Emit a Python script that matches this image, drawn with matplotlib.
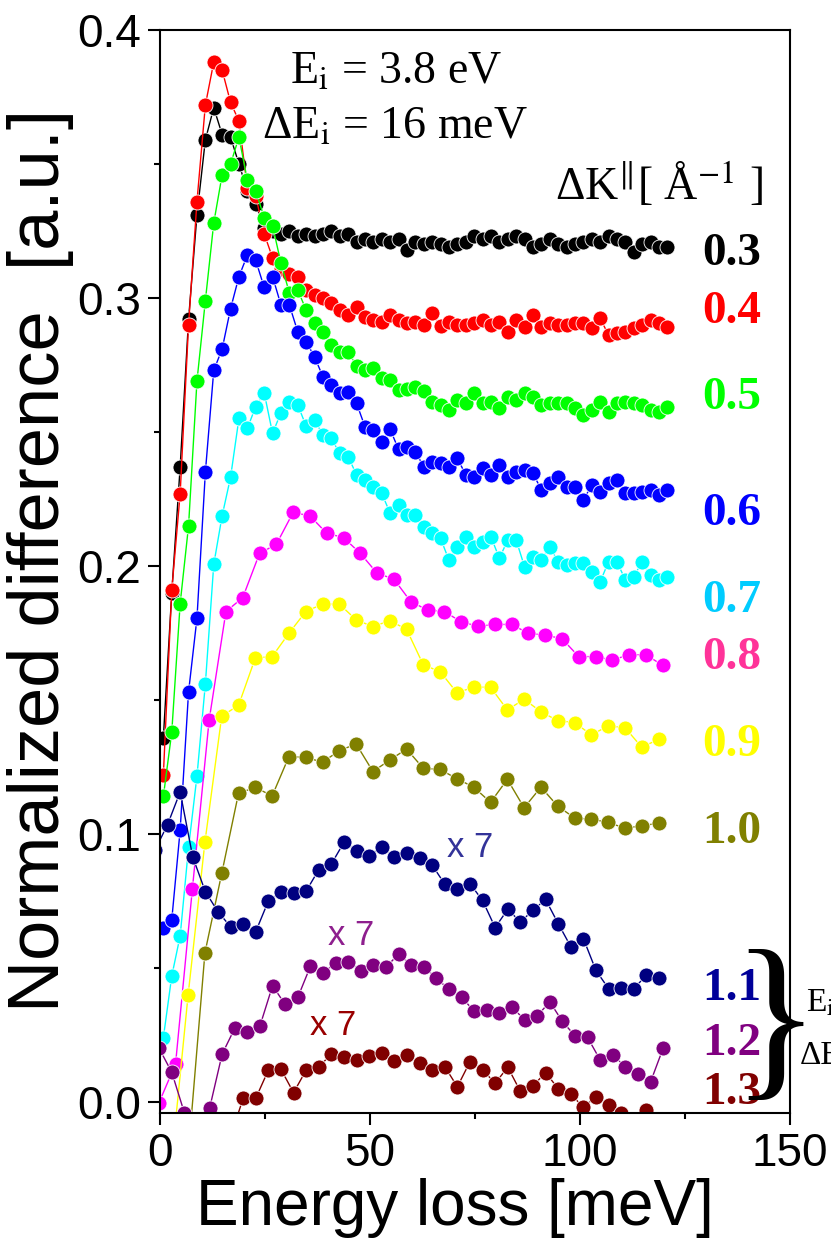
#!/usr/bin/env python3
"""Normalized difference spectra vs energy loss for several momentum transfers."""

import matplotlib
matplotlib.use("Agg")
import matplotlib.pyplot as plt
from matplotlib.ticker import MultipleLocator, FormatStrFormatter

plt.rcParams.update(
    {
        "font.family": ["Liberation Sans", "DejaVu Sans"],
        "mathtext.fontset": "stix",
        "axes.linewidth": 1.5,
    }
)

SERIF = ["Liberation Serif", "DejaVu Serif"]

# energy-loss grids (meV)
X_FINE = [0.8, 2.8, 4.8, 6.8, 8.8, 10.8, 12.8, 14.8, 16.8, 18.8,
          20.8, 22.8, 24.8, 26.8, 28.8, 30.8, 32.8, 34.8, 36.8, 38.8,
          40.8, 42.8, 44.8, 46.8, 48.8, 50.8, 52.8, 54.8, 56.8, 58.8,
          60.8, 62.8, 64.8, 66.8, 68.8, 70.8, 72.8, 74.8, 76.8, 78.8,
          80.8, 82.8, 84.8, 86.8, 88.8, 90.8, 92.8, 94.8, 96.8, 98.8,
          100.8, 102.8, 104.8, 106.8, 108.8, 110.8, 112.8, 114.8, 116.8, 118.8,
          120.8]
X_MAG = [-0.3, 3.7, 7.7, 11.7, 15.7, 19.7, 23.7, 27.7, 31.7, 35.7,
         39.7, 43.7, 47.7, 51.7, 55.7, 59.7, 63.7, 67.7, 71.7, 75.7,
         79.7, 83.7, 87.7, 91.7, 95.7, 99.7, 103.7, 107.7, 111.7, 115.7,
         119.7]
X_YEL = [2.7, 6.7, 10.7, 14.7, 18.7, 22.7, 26.7, 30.7, 34.7, 38.7,
         42.7, 46.7, 50.7, 54.7, 58.7, 62.7, 66.7, 70.7, 74.7, 78.7,
         82.7, 86.7, 90.7, 94.7, 98.7, 102.7, 106.7, 110.7, 114.7, 118.7]
X_OLI = X_YEL[1:]
X_NAV = [-1.2, 1.8, 4.8, 7.8, 10.8, 13.8, 16.8, 19.8, 22.8, 25.8,
         28.8, 31.8, 34.8, 37.8, 40.8, 43.8, 46.8, 49.8, 52.8, 55.8,
         58.8, 61.8, 64.8, 67.8, 70.8, 73.8, 76.8, 79.8, 82.8, 85.8,
         88.8, 91.8, 94.8, 97.8, 100.8, 103.8, 106.8, 109.8, 112.8, 115.8,
         118.8]
X_PUR = [-0.2, 2.8, 5.8, 8.8, 11.8, 14.8, 17.8, 20.8, 23.8, 26.8,
         29.8, 32.8, 35.8, 38.8, 41.8, 44.8, 47.8, 50.8, 53.8, 56.8,
         59.8, 62.8, 65.8, 68.8, 71.8, 74.8, 77.8, 80.8, 83.8, 86.8,
         89.8, 92.8, 95.8, 98.8, 101.8, 104.8, 107.8, 110.8, 113.8, 116.8,
         119.8]
X_MAR = X_NAV[6:]

Y_03 = [0.136, 0.190, 0.237, 0.292, 0.331, 0.359, 0.371, 0.361, 0.360, 0.350,
        0.340, 0.335, 0.326, 0.325, 0.324, 0.325, 0.323, 0.324, 0.323, 0.324,
        0.325, 0.323, 0.324, 0.321, 0.322, 0.321, 0.322, 0.321, 0.322, 0.318,
        0.321, 0.320, 0.321, 0.320, 0.319, 0.320, 0.321, 0.323, 0.322, 0.323,
        0.321, 0.322, 0.323, 0.322, 0.319, 0.320, 0.322, 0.320, 0.319, 0.320,
        0.321, 0.322, 0.321, 0.323, 0.322, 0.321, 0.317, 0.320, 0.321, 0.319,
        0.319]
Y_04 = [0.122, 0.191, 0.227, 0.290, 0.336, 0.372, 0.388, 0.385, 0.373, 0.366,
        0.341, 0.338, 0.324, 0.315, 0.311, 0.309, 0.308, 0.303, 0.301, 0.300,
        0.298, 0.2955, 0.2937, 0.2968, 0.293, 0.2918, 0.2912, 0.2937, 0.2918, 0.2906,
        0.2912, 0.290, 0.2943, 0.2896, 0.2912, 0.290, 0.290, 0.2906, 0.2918, 0.290,
        0.2912, 0.2875, 0.2918, 0.2893, 0.2937, 0.2893, 0.2906, 0.290, 0.290, 0.2906,
        0.2905, 0.2887, 0.2924, 0.2862, 0.2868, 0.2874, 0.2887, 0.290, 0.2918, 0.2905,
        0.2893]
Y_05 = [0.114, 0.138, 0.186, 0.215, 0.269, 0.299, 0.328, 0.346, 0.350, 0.360,
        0.344, 0.340, 0.330, 0.327, 0.313, 0.302, 0.303, 0.2955, 0.2905, 0.2874,
        0.2825, 0.280, 0.280, 0.2746, 0.2731, 0.2737, 0.270, 0.2694, 0.2657, 0.2659,
        0.2669, 0.2654, 0.2613, 0.260, 0.2582, 0.2619, 0.2607, 0.2644, 0.2607, 0.2613,
        0.2588, 0.2632, 0.2619, 0.2644, 0.2632, 0.260, 0.2607, 0.2607, 0.2607, 0.2588,
        0.2563, 0.2582, 0.2613, 0.2576, 0.2607, 0.2613, 0.2607, 0.260, 0.2582, 0.2576,
        0.2595]
Y_06 = [0.065, 0.068, 0.1015, 0.153, 0.1805, 0.235, 0.273, 0.281, 0.296, 0.308,
        0.316, 0.314, 0.304, 0.308, 0.2974, 0.2974, 0.2874, 0.2837, 0.278, 0.2706,
        0.2675, 0.2644, 0.265, 0.2607, 0.252, 0.2507, 0.2464, 0.251, 0.2435, 0.2445,
        0.2427, 0.237, 0.2389, 0.2383, 0.237, 0.2402, 0.234, 0.2333, 0.2364, 0.234,
        0.2377, 0.2333, 0.2352, 0.2358, 0.2346, 0.2284, 0.2308, 0.2333, 0.2296, 0.2296,
        0.2246, 0.2302, 0.2277, 0.2308, 0.2321, 0.2271, 0.2271, 0.2277, 0.2284, 0.2265,
        0.2284]
Y_07 = [0.024, 0.047, 0.062, 0.095, 0.1216, 0.156, 0.2006, 0.2188, 0.2331, 0.2551,
        0.2514, 0.2595, 0.2647, 0.2495, 0.2572, 0.2613, 0.2601, 0.2522, 0.2545, 0.2489,
        0.2476, 0.242, 0.2408, 0.234, 0.2321, 0.2296, 0.2271, 0.2197, 0.2228, 0.219,
        0.219, 0.2147, 0.2122, 0.2103, 0.2022, 0.2072, 0.2109, 0.2072, 0.2091, 0.2109,
        0.2029, 0.2097, 0.2097, 0.1997, 0.2035, 0.2022, 0.2072, 0.2016, 0.2004, 0.201,
        0.201, 0.1979, 0.1941, 0.2016, 0.2016, 0.1948, 0.196, 0.2016, 0.1966, 0.1948,
        0.196]
Y_08 = [-0.0005, 0.0142, 0.0794, 0.1425, 0.183, 0.1882, 0.2047, 0.2081, 0.220, 0.2187,
        0.2122, 0.2106, 0.2047, 0.1973, 0.1951, 0.1867, 0.1836, 0.183, 0.1792, 0.1775,
        0.1782, 0.1782, 0.1749, 0.1742, 0.1729, 0.1662, 0.1662, 0.1649, 0.1669, 0.1669,
        0.1629]
Y_09 = [-0.023, 0.040, 0.097, 0.144, 0.148, 0.1657, 0.1662, 0.1749, 0.183, 0.1858,
        0.1858, 0.1799, 0.1774, 0.1796, 0.1764, 0.1631, 0.1606, 0.1527, 0.1548, 0.1548,
        0.1463, 0.1503, 0.1456, 0.1423, 0.1416, 0.137, 0.1403, 0.1397, 0.1324, 0.1353]
Y_10 = [-0.020, 0.0557, 0.0853, 0.1152, 0.1174, 0.1142, 0.1289, 0.1286, 0.1268,
        0.1311, 0.1336, 0.1233, 0.1276, 0.1317, 0.1245, 0.1241, 0.1206, 0.1175, 0.1118,
        0.1204, 0.1098, 0.1175, 0.1104, 0.106, 0.1055, 0.1044, 0.1021, 0.1031, 0.104]
Y_11 = [0.094, 0.1035, 0.1157, 0.0914, 0.0785, 0.071, 0.0654, 0.0664, 0.0636, 0.075,
        0.0782, 0.0779, 0.0787, 0.0867, 0.0888, 0.0969, 0.0938, 0.0919, 0.095, 0.0915,
        0.0928, 0.0912, 0.0884, 0.0813, 0.0795, 0.0815, 0.0752, 0.0651, 0.0719, 0.0672,
        0.0715, 0.0756, 0.0666, 0.058, 0.061, 0.0491, 0.0423, 0.0427, 0.0423, 0.0473,
        0.0463]
Y_12 = [0.020, 0.0111, -0.004, -0.015, -0.0024, 0.0179, 0.0275, 0.0262, 0.0284, 0.0434,
        0.0364, 0.039, 0.0506, 0.048, 0.052, 0.0524, 0.049, 0.0511, 0.0503, 0.0552,
        0.0511, 0.0505, 0.0462, 0.042, 0.0392, 0.0338, 0.0342, 0.0333, 0.0354, 0.0307,
        0.0321, 0.0374, 0.0301, 0.0247, 0.0241, 0.0157, 0.0177, 0.0131, 0.0104, 0.0075,
        0.0201]
Y_13 = [-0.013, 0.0014, 0.0014, 0.0119, 0.0122, 0.0035, 0.0119, 0.0132, 0.0178, 0.0169,
        0.0157, 0.0172, 0.0182, 0.0154, 0.0175, 0.0144, 0.0119, 0.0132, 0.0057, 0.015,
        0.012, 0.007, 0.013, 0.004, 0.006, 0.011, 0.005, 0.003, -0.002, 0.002,
        -0.001, -0.004, -0.008, -0.003, -0.009]

SERIES = [
    (X_FINE, Y_03, "#000000"),
    (X_FINE, Y_04, "#ff0000"),
    (X_FINE, Y_05, "#00ff00"),
    (X_FINE, Y_06, "#0000ff"),
    (X_FINE, Y_07, "#00ffff"),
    (X_MAG, Y_08, "#ff00ff"),
    (X_YEL, Y_09, "#ffff00"),
    (X_OLI, Y_10, "#808000"),
    (X_NAV, Y_11, "#000080"),
    (X_PUR, Y_12, "#800080"),
    (X_MAR, Y_13, "#800000"),
]

DK_LABELS = ["0.3", "0.4", "0.5", "0.6", "0.7", "0.8", "0.9", "1.0", "1.1", "1.2", "1.3"]
DK_COLORS = ["#000000", "#ff0000", "#00ff00", "#0000ff", "#00ccff", "#ff3399",
             "#ffff00", "#808000", "#000099", "#800080", "#800000"]
DK_BASE = [0.3123, 0.2906, 0.2585, 0.2153, 0.1828, 0.1616, 0.1291, 0.0966, 0.0380, 0.0175, -0.0007]

SCALE_TXT = [("x 7", 68.3, 0.0915, "#333399"),
             ("x 7", 40.1, 0.0586, "#8e1f8e"),
             ("x 7", 35.7, 0.0250, "#990000")]

W, H = 831, 1248
fig = plt.figure(figsize=(W / 100, H / 100), dpi=100)
ax = fig.add_axes([160 / W, 1 - 1113 / H, 630 / W, 1083 / H])

for xs, ys, c in SERIES:
    ax.plot(xs, ys, "-", color=c, lw=1.0, marker="o", ms=10.8,
            mfc=c, mec="white", mew=0.6)

ax.set_xlim(0, 150)
ax.set_ylim(-0.0041, 0.4)
ax.xaxis.set_major_locator(MultipleLocator(50))
ax.xaxis.set_minor_locator(MultipleLocator(25))
ax.yaxis.set_major_locator(MultipleLocator(0.1))
ax.yaxis.set_minor_locator(MultipleLocator(0.05))
ax.yaxis.set_major_formatter(FormatStrFormatter("%.1f"))
ax.tick_params(which="major", direction="out", length=8.6, width=1.5, labelsize=33, pad=5)
ax.tick_params(which="minor", direction="out", length=4.3, width=1.5)

ax.set_xlabel("Energy loss [meV]", fontsize=46)
ax.xaxis.set_label_coords(0.4675, -0.060)
ax.set_ylabel("Normalized difference  [a.u.]", fontsize=52)
ax.yaxis.set_label_coords(-0.136, 0.51)

ax.text(31.0, 0.3802, r"E$_\mathrm{i}$ = 3.8 eV", family=SERIF, fontsize=33, va="baseline")
ax.text(24.2, 0.3597, r"ΔE$_\mathrm{i}$ = 16 meV", family=SERIF, fontsize=33, va="baseline")
ax.text(94.0, 0.3366, r"ΔK$^{\Vert}$[ Å$^{-1}$ ]", family=SERIF, fontsize=33, va="baseline")

for lab, col, yb in zip(DK_LABELS, DK_COLORS, DK_BASE):
    ax.text(129, yb, lab, color=col, family=SERIF, fontweight="bold",
            fontsize=34, va="baseline", ha="left")

for txt, xt, yt, col in SCALE_TXT:
    ax.text(xt, yt, txt, color=col, fontsize=25, va="baseline", ha="left")

# brace grouping the last three curves, with the cut-off note beside it
ax.text(146.6, 0.0262, "}", family=SERIF, fontsize=132, va="center", ha="center",
        clip_on=False)
fig.text(806 / W, 1 - 1012 / H, r"E$_\mathrm{i}$", family=SERIF, fontsize=24)
fig.text(800 / W, 1 - 1064 / H, "ΔE", family=SERIF, fontsize=24)

fig.savefig("out.png", dpi=100)
